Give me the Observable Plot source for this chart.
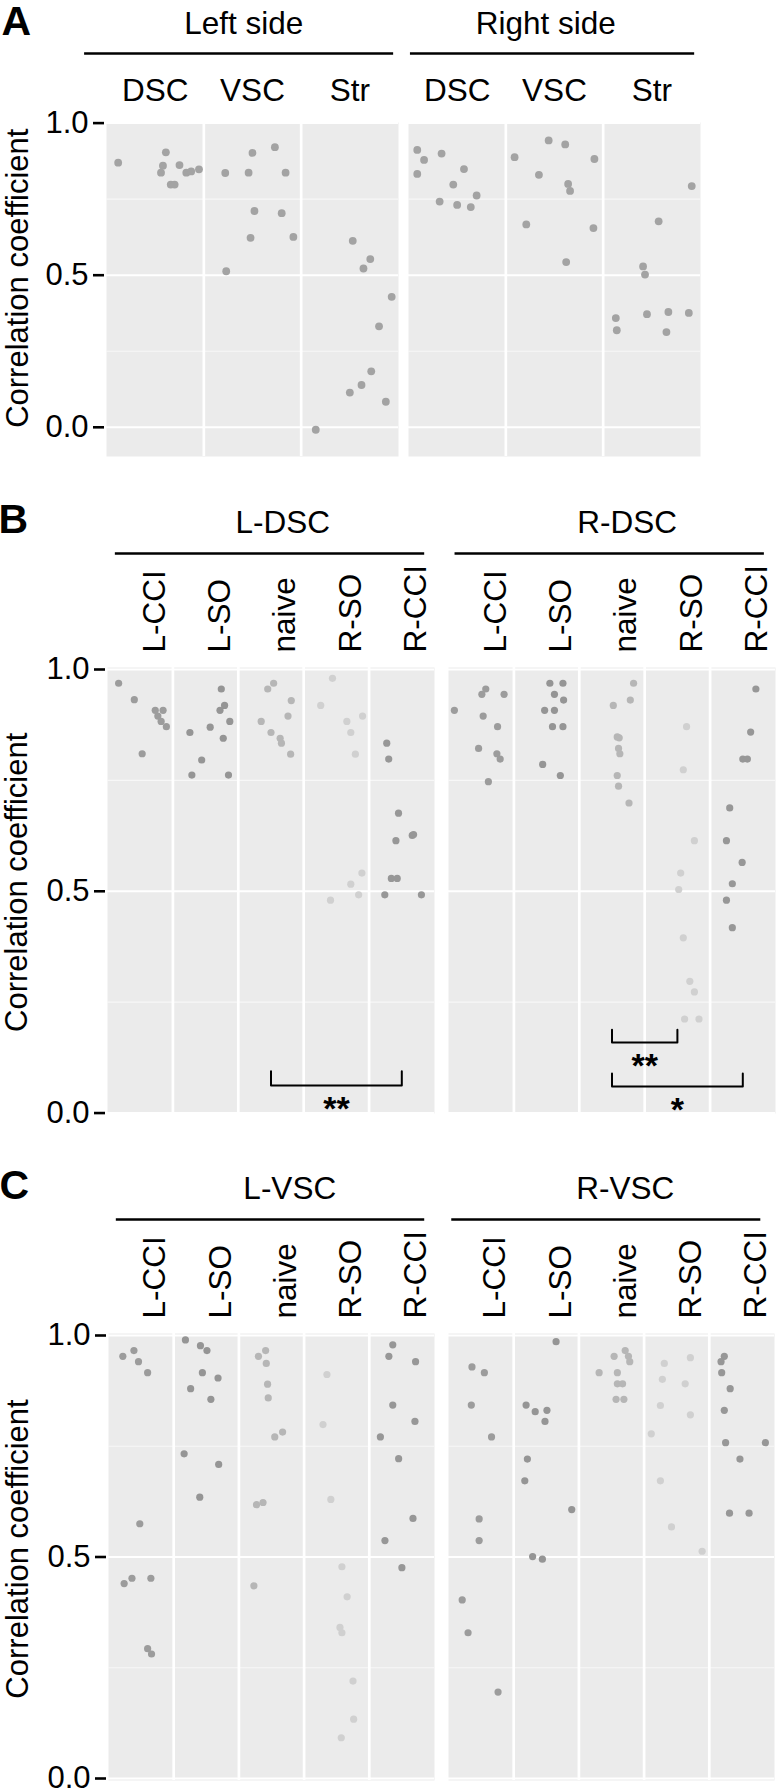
<!DOCTYPE html>
<html><head><meta charset="utf-8">
<script src="https://cdn.jsdelivr.net/npm/d3@7"></script>
<script src="https://cdn.jsdelivr.net/npm/@observablehq/plot@0.6"></script>
<style>
body{margin:0;background:#fff;}
#wrap{position:relative;width:776px;height:1792px;overflow:hidden;}
#wrap > div{position:absolute;left:0;width:776px;}
</style></head><body><div id="wrap"></div>
<script>
const FONT = '"Liberation Sans", Arial, Helvetica, sans-serif';

// ---------- Panel A ----------
const sidesA = ["Left side", "Right side"];
const regionsA = ["DSC", "VSC", "Str"];
const aLeftValues = [
  [0.870,0.904,0.860,0.837,0.862,0.798,0.798,0.837,0.841,0.848],
  [0.836,0.837,0.902,0.921,0.837,0.711,0.704,0.623,0.626,0.513],
  [0.613,0.553,0.522,0.429,0.332,0.184,0.139,0.114,0.084,-0.008]
];
const aLeftJitter = [
  [-0.38,0.11,0.08,0.06,0.25,0.16,0.20,0.32,0.37,0.45],
  [-0.28,-0.04,0.00,0.23,0.34,0.02,0.30,-0.02,0.42,-0.27],
  [0.03,0.21,0.14,0.43,0.30,0.22,0.12,0.00,0.37,-0.35]
];
const aRightValues = [
  [0.912,0.879,0.900,0.833,0.849,0.798,0.762,0.742,0.731,0.724],
  [0.888,0.943,0.930,0.882,0.830,0.800,0.777,0.667,0.655,0.543],
  [0.793,0.677,0.529,0.502,0.359,0.319,0.372,0.379,0.376,0.313]
];
const aRightJitter = [
  [-0.41,-0.34,-0.16,-0.41,0.07,-0.04,0.20,-0.18,0.00,0.14],
  [-0.41,-0.06,0.11,0.41,-0.16,0.14,0.16,-0.29,0.40,0.12],
  [0.41,0.07,-0.09,-0.07,-0.37,-0.36,-0.05,0.17,0.38,0.15]
];

// ---------- Panels B and C ----------
const groups = ["L-CCI", "L-SO", "naive", "R-SO", "R-CCI"];
const groupColors = ["#9c9c9c", "#959595", "#b6b6b6", "#d0d0d0", "#979797"];

const sidesB = ["L-DSC", "R-DSC"];
const bLeftValues = [
  [0.969,0.932,0.908,0.908,0.895,0.883,0.871,0.810],
  [0.956,0.919,0.908,0.883,0.870,0.858,0.845,0.796,0.762,0.762],
  [0.969,0.956,0.930,0.895,0.883,0.858,0.845,0.834,0.809],
  [0.980,0.919,0.883,0.895,0.858,0.809,0.541,0.516,0.492,0.480],
  [0.834,0.798,0.676,0.626,0.628,0.614,0.529,0.529,0.492,0.492]
];
const bLeftJitter = [
  [-0.33,-0.09,0.23,0.35,0.27,0.32,0.40,0.03],
  [0.24,0.29,0.22,0.37,0.07,-0.24,0.27,-0.06,-0.21,0.35],
  [0.04,-0.05,0.31,0.26,-0.15,0.00,0.14,0.16,0.30],
  [-0.06,-0.24,0.16,0.40,0.22,0.29,0.39,0.22,0.34,-0.09],
  [-0.23,-0.20,-0.05,0.16,0.18,-0.09,-0.16,-0.07,-0.26,0.30]
];
const bRightValues = [
  [0.956,0.944,0.944,0.908,0.895,0.871,0.822,0.810,0.798,0.747],
  [0.969,0.969,0.944,0.931,0.908,0.908,0.871,0.871,0.786,0.761],
  [0.969,0.931,0.919,0.846,0.848,0.822,0.810,0.761,0.737,0.699],
  [0.871,0.774,0.614,0.541,0.504,0.395,0.297,0.273,0.212,0.212],
  [0.956,0.859,0.798,0.798,0.688,0.614,0.565,0.517,0.480,0.418]
];
const bRightJitter = [
  [0.07,0.01,0.35,-0.41,0.03,0.25,-0.04,0.24,0.29,0.11],
  [0.05,0.25,0.12,0.26,-0.03,0.12,0.09,0.25,-0.06,0.21],
  [0.33,0.28,0.02,0.11,0.08,0.10,0.12,0.08,0.10,0.26],
  [0.14,0.09,0.26,0.05,0.02,0.09,0.19,0.26,0.11,0.33],
  [0.20,0.12,0.00,0.07,-0.20,-0.25,-0.01,-0.16,-0.25,-0.16]
];
const bracketsB = [
  {side: "L-DSC", from: "naive", to: "R-CCI", y: 0.062, tip: 0.094, label: "**"},
  {side: "R-DSC", from: "naive", to: "R-SO", y: 0.159, tip: 0.188, label: "**"},
  {side: "R-DSC", from: "naive", to: "R-CCI", y: 0.060, tip: 0.089, label: "*"}
];

const sidesC = ["L-VSC", "R-VSC"];
const cLeftValues = [
  [0.953,0.966,0.941,0.916,0.575,0.452,0.440,0.452,0.293,0.281],
  [0.990,0.977,0.966,0.916,0.904,0.880,0.856,0.733,0.709,0.635],
  [0.966,0.953,0.937,0.890,0.859,0.782,0.771,0.623,0.618,0.435],
  [0.912,0.799,0.630,0.478,0.410,0.341,0.329,0.220,0.134,0.092],
  [0.979,0.953,0.941,0.843,0.806,0.771,0.722,0.587,0.537,0.476]
];
const cLeftJitter = [
  [-0.28,-0.11,-0.04,0.10,-0.02,-0.14,-0.26,0.15,0.10,0.16],
  [-0.32,-0.09,0.01,-0.06,0.18,-0.24,0.07,-0.34,0.19,-0.10],
  [-0.09,-0.20,-0.08,-0.06,-0.05,0.17,0.05,-0.13,-0.23,-0.27],
  [-0.15,-0.21,-0.09,0.08,0.16,0.05,0.08,0.25,0.26,0.07],
  [-0.14,-0.20,0.21,-0.14,0.20,-0.33,-0.05,0.17,-0.26,0.00]
];
const cRightValues = [
  [0.929,0.916,0.843,0.771,0.586,0.537,0.403,0.329,0.195],
  [0.986,0.843,0.828,0.831,0.806,0.721,0.672,0.607,0.501,0.495],
  [0.966,0.953,0.953,0.941,0.916,0.916,0.891,0.891,0.856,0.856],
  [0.937,0.950,0.901,0.891,0.842,0.821,0.778,0.672,0.568,0.513],
  [0.953,0.941,0.916,0.880,0.831,0.758,0.758,0.721,0.599,0.599]
];
const cRightJitter = [
  [-0.14,0.05,-0.15,0.16,-0.03,-0.03,-0.29,-0.20,0.26],
  [0.15,-0.31,-0.17,0.01,-0.02,-0.29,-0.33,0.39,-0.21,-0.06],
  [0.21,0.04,0.26,0.28,-0.19,0.09,0.09,0.17,0.07,0.19],
  [-0.19,0.21,-0.22,0.13,-0.25,0.21,-0.39,-0.25,-0.08,0.39],
  [-0.27,-0.32,-0.31,-0.18,-0.27,-0.25,0.36,-0.03,-0.19,0.11]
];

const yTicks = [0, 0.5, 1];
const yLabel = "Correlation coefficient";

// ---------- builders ----------
function rowsFrom(side, values, jitter, cats) {
  const out = [];
  values.forEach((vals, i) => vals.forEach((v, k) =>
    out.push({side, cat: cats[i], ci: i, jitter: jitter[i][k], value: v})));
  return out;
}

function makePanel(cfg) {
  const {letter, sides, cats, rows, yDomain, height, marginTop, marginBottom,
    marginLeft, marginRight, gapPad, rotated, fill, r, groupX, lines,
    brackets = [], ylabDx, ylabDy, letterDx, letterDy, above} = cfg;
  const cells = sides.flatMap(s => cats.map((c, i) => ({side: s, cat: c, i})));
  const lineRows = sides.map((s, k) => ({side: s, x1: lines[k][0], x2: lines[k][1]}));
  const groupRows = sides.map((s, k) => ({side: s, x: groupX[k]}));
  const bracketPts = brackets.flatMap((b, k) => {
    const a = cats.indexOf(b.from) + 0.5, c = cats.indexOf(b.to) + 0.5;
    return [
      {k, side: b.side, x: a, y: b.tip}, {k, side: b.side, x: a, y: b.y},
      {k, side: b.side, x: c, y: b.y}, {k, side: b.side, x: c, y: b.tip}
    ];
  });
  const marks = [
    Plot.frame({fill: "#ebebeb", stroke: "none"}),
    Plot.ruleY([0.25, 0.75], {stroke: "#f7f7f7", strokeWidth: 1.2}),
    Plot.ruleY([0, 0.5, 1], {stroke: "#ffffff", strokeWidth: 2}),
    Plot.ruleX(d3.range(1, cats.length), {stroke: "#ffffff", strokeWidth: 2.7}),
    Plot.dot(rows, {fx: "side", x: d => d.ci + 0.5 + d.jitter, y: "value", r, fill, stroke: "none"}),
    Plot.line(bracketPts, {fx: "side", x: "x", y: "y", z: "k", stroke: "black", strokeWidth: 2}),
    Plot.text(brackets, {fx: "side", x: b => (cats.indexOf(b.from) + cats.indexOf(b.to)) / 2 + 0.5,
      y: "y", text: "label", dy: 24, fontSize: 34, fontWeight: "bold"}),
    Plot.ruleY(lineRows, {fx: "side", y: () => yDomain[1], x1: "x1", x2: "x2",
      dy: -above.line, stroke: "black", strokeWidth: 2.5}),
    Plot.text(groupRows, {fx: "side", x: "x", text: "side", frameAnchor: "top",
      lineAnchor: "bottom", dy: -above.group, fontSize: 31.5}),
    Plot.text([sides[0]], {fx: d => d, text: () => letter, frameAnchor: "top-left",
      textAnchor: "start", lineAnchor: "bottom", dx: letterDx, dy: -above.group + letterDy,
      fontSize: 41, fontWeight: "bold"}),
    Plot.text([sides[0]], {fx: d => d, text: () => yLabel, y: () => 0.5, frameAnchor: "left",
      rotate: -90, textAnchor: "middle", dx: ylabDx, dy: ylabDy, fontSize: 31}),
    rotated
      ? Plot.text(cells, {fx: "side", x: d => d.i + 0.5, text: "cat", frameAnchor: "top",
          rotate: -90, textAnchor: "start", dx: 2, dy: -above.cat, fontSize: 31.5})
      : Plot.text(cells, {fx: "side", x: d => d.i + 0.5, text: "cat", frameAnchor: "top",
          lineAnchor: "bottom", dy: -above.cat, fontSize: 31.5}),
    Plot.axisY({ticks: yTicks, tickFormat: d3.format(".1f"), tickSize: 11, tickPadding: 5,
      fontSize: 31, strokeWidth: 2.6, dx: -2, label: null, facetAnchor: "left"})
  ];
  return Plot.plot({
    width: 776, height, marginTop, marginBottom, marginLeft, marginRight,
    style: {fontFamily: FONT, fontSize: "31px", background: "transparent", overflow: "visible", color: "black"},
    fx: {domain: sides, paddingInner: gapPad, paddingOuter: 0, axis: null, label: null},
    x: {domain: [0, cats.length], axis: null},
    y: {domain: yDomain},
    color: {domain: groups, range: groupColors},
    marks
  });
}

const wrap = document.getElementById("wrap");
function place(svg, top) {
  const d = document.createElement("div");
  d.style.top = top + "px";
  d.appendChild(svg);
  wrap.appendChild(d);
}

const rowsA = [
  ...rowsFrom(sidesA[0], aLeftValues, aLeftJitter, regionsA),
  ...rowsFrom(sidesA[1], aRightValues, aRightJitter, regionsA)
];
place(makePanel({
  letter: "A", sides: sidesA, cats: regionsA, rows: rowsA,
  yDomain: [-0.096, 1.002], height: 460, marginTop: 122, marginBottom: 4,
  marginLeft: 105, marginRight: 75, gapPad: 0.033, rotated: false,
  fill: "#a3a3a3", r: 3.9, groupX: [1.41, 1.41], lines: [[-0.225, 2.95], [0.02, 2.94]],
  ylabDx: -88, ylabDy: 3, letterDx: -105, letterDy: 1, above: {group: 89, line: 69, cat: 22}
}), 0);

const rowsB = [
  ...rowsFrom(sidesB[0], bLeftValues, bLeftJitter, groups),
  ...rowsFrom(sidesB[1], bRightValues, bRightJitter, groups)
];
place(makePanel({
  letter: "B", sides: sidesB, cats: groups, rows: rowsB,
  yDomain: [-0.001, 1.0045], height: 653, marginTop: 197, marginBottom: 10,
  marginLeft: 107, marginRight: 0, gapPad: 0.041, rotated: true,
  fill: "cat", r: 3.6, groupX: [2.68, 2.73], lines: [[0.12, 4.85], [0.1, 4.83]],
  brackets: bracketsB,
  ylabDx: -90, ylabDy: -9, letterDx: -109, letterDy: 0, above: {group: 135, line: 114, cat: 15}
}), 470);

const rowsC = [
  ...rowsFrom(sidesC[0], cLeftValues, cLeftJitter, groups),
  ...rowsFrom(sidesC[1], cRightValues, cRightJitter, groups)
];
place(makePanel({
  letter: "C", sides: sidesC, cats: groups, rows: rowsC,
  yDomain: [-0.0045, 1.0045], height: 672, marginTop: 213, marginBottom: 12,
  marginLeft: 107, marginRight: 1, gapPad: 0.041, rotated: true,
  fill: "cat", r: 3.6, groupX: [2.78, 2.71], lines: [[0.12, 4.85], [0.05, 4.79]],
  ylabDx: -90, ylabDy: -8, letterDx: -109, letterDy: 0, above: {group: 135, line: 114, cat: 15}
}), 1120);
</script></body></html>
